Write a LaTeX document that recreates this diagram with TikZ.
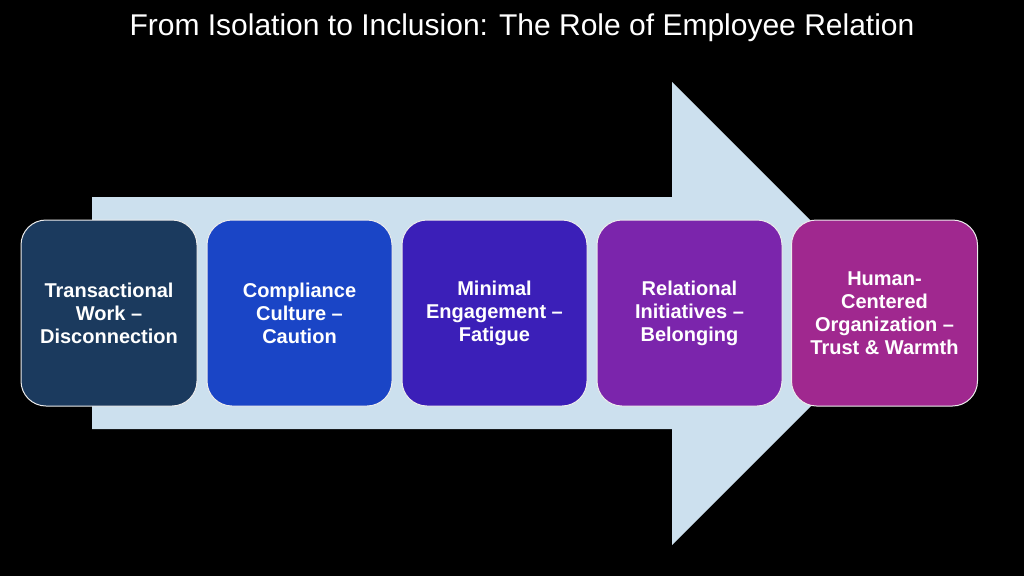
\documentclass[tikz,border=0pt]{standalone}
\usepackage{fontspec}
\setmainfont{Liberation Sans}
\definecolor{arrowblue}{HTML}{CCE0EE}
\definecolor{stageA}{HTML}{1B3A5E}
\definecolor{stageB}{HTML}{1A45C6}
\definecolor{stageC}{HTML}{3B1FB8}
\definecolor{stageD}{HTML}{7B25AC}
\definecolor{stageE}{HTML}{A0288F}
\tikzset{stage/.style={draw=white!85!gray,line width=1pt,rounded corners=25pt,minimum height=186pt,
  align=center,text=white,font=\bfseries\fontsize{20}{23}\selectfont}}
\begin{document}
\begin{tikzpicture}[x=1pt,y=-1pt,line join=round]
\fill[black] (0,0) rectangle (1024,576);
% big arrow behind the stages
\fill[arrowblue] (92,197)--(672,197)--(672,82)--(903.5,313.5)--(672,545)--(672,429)--(92,429)--cycle;
\node[text=white,font=\fontsize{30}{34}\selectfont] (title) at (522,28) {From Isolation to Inclusion: The Role of Employee Relation};
\foreach \x/\w/\c/\t [count=\i] in {109/176pt/stageA/{Transactional\\Work –\\Disconnection},
  299.5/185pt/stageB/{Compliance\\Culture –\\Caution},
  494.5/185pt/stageC/{Minimal\\Engagement –\\Fatigue},
  689.5/185pt/stageD/{Relational\\Initiatives –\\Belonging},
  884.5/186pt/stageE/{Human-\\Centered\\Organization –\\Trust \& Warmth}}
\node[stage,fill=\c,minimum width=\w] (s\i) at (\x,313) {\t};
\end{tikzpicture}
\end{document}
